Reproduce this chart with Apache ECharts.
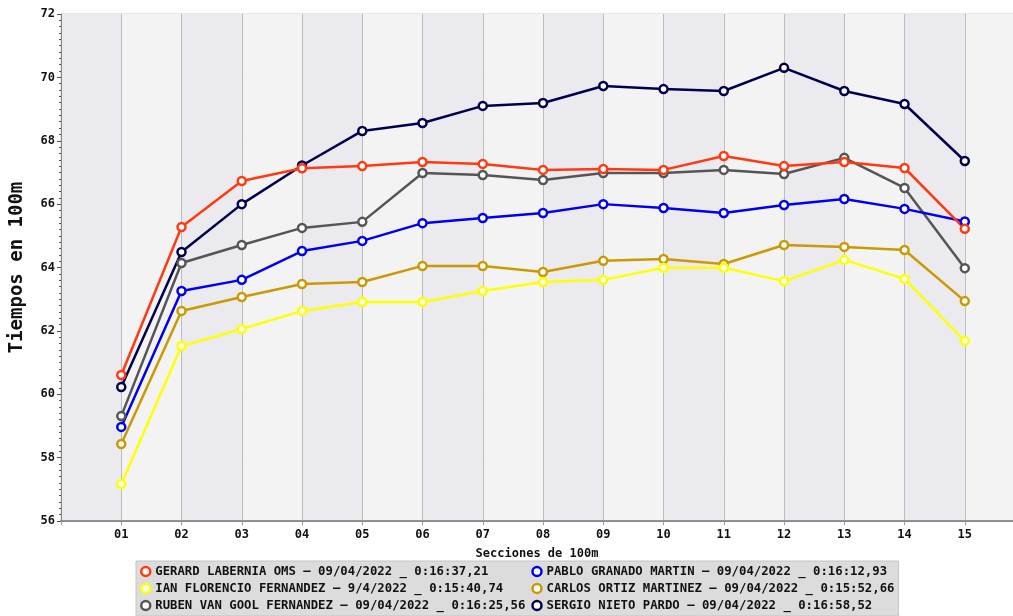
<!DOCTYPE html>
<html>
<head>
<meta charset="utf-8">
<script src="https://cdn.jsdelivr.net/npm/echarts@6/dist/echarts.min.js"></script>
<style>
  html, body { margin: 0; padding: 0; background: #fff; }
  #tiempos { width: 1013px; height: 616px; }
</style>
</head>
<body>
<div id="tiempos"></div>
<script>
  // secciones de 100m
  const secciones = ['01', '02', '03', '04', '05', '06', '07', '08', '09', '10', '11', '12', '13', '14', '15'];
  const yTicks = [56, 58, 60, 62, 64, 66, 68, 70, 72];

  const nombres = [
    'GERARD LABERNIA OMS – 09/04/2022 _ 0:16:37,21',
    'PABLO GRANADO MARTIN – 09/04/2022 _ 0:16:12,93',
    'IAN FLORENCIO FERNANDEZ – 9/4/2022 _ 0:15:40,74',
    'CARLOS ORTIZ MARTINEZ – 09/04/2022 _ 0:15:52,66',
    'RUBEN VAN GOOL FERNANDEZ – 09/04/2022 _ 0:16:25,56',
    'SERGIO NIETO PARDO – 09/04/2022 _ 0:16:58,52'
  ];
  const colores = ['#ff3a10', '#0000ee', '#ffff00', '#cc9900', '#555555', '#000050'];

  const gerard = [60.61, 65.28, 66.73, 67.13, 67.20, 67.33, 67.27, 67.08, 67.11, 67.08, 67.52, 67.20, 67.33, 67.14, 65.22];
  const pablo  = [58.97, 63.26, 63.61, 64.52, 64.84, 65.40, 65.56, 65.72, 66.00, 65.88, 65.72, 65.97, 66.16, 65.85, 65.45];
  const ian    = [57.17, 61.52, 62.06, 62.63, 62.91, 62.91, 63.26, 63.54, 63.61, 63.99, 63.99, 63.57, 64.24, 63.64, 61.68];
  const carlos = [58.43, 62.63, 63.07, 63.48, 63.54, 64.05, 64.05, 63.86, 64.21, 64.27, 64.11, 64.71, 64.65, 64.55, 62.94];
  const ruben  = [59.31, 64.14, 64.71, 65.25, 65.44, 66.98, 66.92, 66.76, 66.98, 66.98, 67.08, 66.95, 67.46, 66.51, 63.98];
  const sergio = [60.23, 64.49, 66.00, 67.22, 68.31, 68.56, 69.10, 69.19, 69.73, 69.63, 69.57, 70.30, 69.57, 69.16, 67.36];
  const tiempos = [gerard, pablo, ian, carlos, ruben, sergio];

  const fuente = '"DejaVu Sans Mono", monospace';

  let chart = echarts.init(document.getElementById('tiempos'));

  // el rojo queda encima, por eso se dibuja al revés
  let series = [];
  for (let i = tiempos.length - 1; i >= 0; i--) {
    series.push({
      name: nombres[i],
      type: 'line',
      symbol: 'circle',
      symbolSize: 8,
      data: tiempos[i].map((v, k) => [k + 1, v]),
      lineStyle: { color: colores[i], width: 2.5 },
      itemStyle: { color: '#fff', borderColor: colores[i], borderWidth: 2.5 },
      emphasis: { disabled: true }
    });
  }

  const option = {
    backgroundColor: '#fff',
    animation: false,
    grid: {
      left: 61, right: 0, top: 14, bottom: 95,
      outerBoundsMode: 'none',
      containLabel: false,
      show: true,
      backgroundColor: '#f4f4f4',
      borderColor: '#cfcfcf',
      borderWidth: 1
    },
    legend: {
      left: 136,
      top: 561,
      width: 770,
      padding: [3, 4, 3, 4],
      itemGap: 2,
      itemWidth: 9,
      itemHeight: 9,
      backgroundColor: '#dcdcdc',
      borderColor: '#c4c4c4',
      borderWidth: 1,
      selectedMode: false,
      textStyle: { fontFamily: fuente, fontWeight: 'bold', fontSize: 12.3, color: '#111', lineHeight: 15 },
      data: nombres.map((n, i) => ({
        name: n,
        icon: 'circle',
        itemStyle: { color: '#fff', borderColor: colores[i], borderWidth: 2.5 },
        textStyle: i % 2 === 0 ? { width: 374 } : {}
      }))
    },
    xAxis: {
      type: 'value',
      min: 0,
      max: 15.8,
      interval: 1,
      name: 'Secciones de 100m',
      nameLocation: 'middle',
      nameGap: 27,
      nameTextStyle: { fontFamily: fuente, fontWeight: 'bold', fontSize: 12, color: '#111' },
      axisLine: { lineStyle: { color: '#777', width: 1.5 } },
      axisTick: { length: 4, lineStyle: { color: '#999' } },
      axisLabel: {
        margin: 8,
        fontFamily: fuente, fontWeight: 'bold', fontSize: 12, color: '#111',
        formatter: v => (v >= 1 && v <= secciones.length ? secciones[v - 1] : ''),
        showMaxLabel: false
      },
      splitLine: { lineStyle: { color: '#bcbcbc', width: 1 } },
      splitArea: { show: true, areaStyle: { color: ['#eaeaef', '#f3f3f3'] } }
    },
    yAxis: {
      type: 'value',
      min: yTicks[0],
      max: yTicks[yTicks.length - 1],
      interval: 2,
      name: 'Tiempos en 100m',
      nameLocation: 'middle',
      nameGap: 34,
      nameTextStyle: { fontFamily: fuente, fontWeight: 'bold', fontSize: 19, color: '#111' },
      axisLine: { show: true, lineStyle: { color: '#888', width: 1 } },
      axisTick: { show: true, length: 4, lineStyle: { color: '#555' } },
      minorTick: { show: true, splitNumber: 10, length: 2, lineStyle: { color: '#555' } },
      axisLabel: { margin: 6, fontFamily: fuente, fontWeight: 'bold', fontSize: 12, color: '#111' },
      splitLine: { lineStyle: { color: '#bcbcbc', width: 1 } },
      minorSplitLine: { show: true, lineStyle: { color: 'rgba(255,255,255,0.6)', width: 3 } }
    },
    series: series
  };
  chart.setOption(option);
</script>
</body>
</html>
